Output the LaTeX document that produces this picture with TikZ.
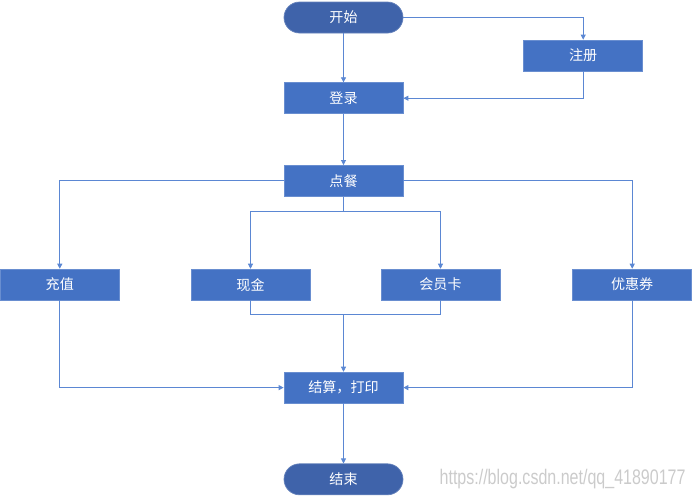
\documentclass[tikz,border=0pt]{standalone}
\usepackage{fontspec}
\usepackage{tikz}
\usepackage{xcolor}
\usetikzlibrary{positioning, arrows.meta, calc}
\newfontfamily\cjk{Noto Sans CJK SC}
\newfontfamily\urlfont[FakeStretch=0.76]{Liberation Sans}
\definecolor{boxblue}{HTML}{4472C4}
\definecolor{pillblue}{HTML}{3F63AA}
\definecolor{linkblue}{HTML}{5B87D3}
\definecolor{markgray}{HTML}{CBCBCB}

\begin{document}
\begin{tikzpicture}[
  box/.style={rectangle, draw=boxblue!80!white, fill=boxblue, line width=0.5pt, minimum width=2.975cm, minimum height=0.775cm, inner sep=0pt, align=center, text=white, font=\cjk\fontsize{10}{12}\selectfont},
  pill/.style={box, rounded corners=0.3875cm, fill=pillblue, draw=pillblue!80!white},
  line/.style={draw=linkblue, line width=0.6pt, -{Triangle[length=3.6pt,width=3.6pt]}},
  link/.style={draw=linkblue, line width=0.6pt},
  watermark/.style={inner sep=0pt, text=markgray, font=\urlfont\fontsize{15}{17}\selectfont}
]
  \useasboundingbox (-8.5875,0.4375) rectangle (8.7125,-11.9625);

  \node [pill] (start) at (0,0) {开始};
  \node [box, right=3cm of start, yshift=-0.95cm] (reg) {注册};
  \node [box, below=1.225cm of start] (login) {登录};
  \node [box, below=1.275cm of login] (order) {点餐};

  \node [box, below=1.8cm of order, xshift=-2.325cm] (cash) {现金};
  \node [box, below=1.8cm of order, xshift=2.425cm] (card) {会员卡};
  \node [box, left=1.775cm of cash] (recharge) {充值};
  \node [box, right=1.8cm of card] (coupon) {优惠券};

  \node [box, below=4.375cm of order] (pay) {结算，打印};
  \node [pill, below=1.5cm of pay] (finish) {结束};
  \node [watermark, right=0.9cm of finish] (url) {https://blog.csdn.net/qq\_41890177};

  \coordinate [below=0.375cm of order] (split);
  \coordinate [below=0.35cm of cash] (cashjoin);
  \coordinate (merge) at (cashjoin -| pay);

  \draw [line] (start) -- (login);
  \draw [line] (start.east) -| (reg.north);
  \draw [line] (reg.south) |- (login.east);
  \draw [line] (login) -- (order);

  \draw [line] (order.west) -| (recharge.north);
  \draw [line] (order.east) -| (coupon.north);
  \draw [link] (order.south) -- (split);
  \draw [line] (split) -| (cash.north);
  \draw [line] (split) -| (card.north);

  \draw [link] (cash.south) -- (cashjoin) -| (card.south);
  \draw [line] (merge) -- (pay);
  \draw [line] (recharge.south) |- (pay.west);
  \draw [line] (coupon.south) |- (pay.east);
  \draw [line] (pay) -- (finish);
\end{tikzpicture}
\end{document}
